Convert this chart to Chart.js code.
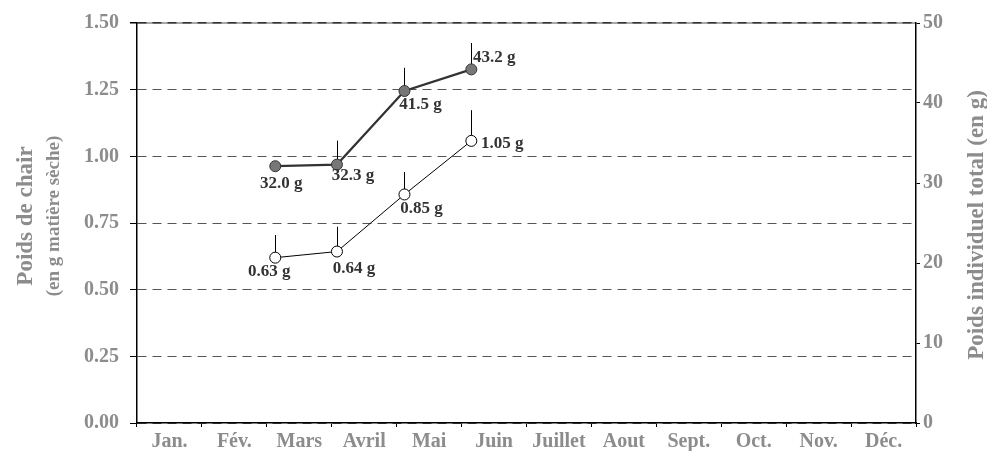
<!DOCTYPE html>
<html>
<head>
<meta charset="utf-8">
<script src="https://cdn.jsdelivr.net/npm/chart.js@4/dist/chart.umd.min.js"></script>
<style>
  html, body { margin: 0; padding: 0; background: #fff; }
  #wrap { width: 987px; height: 451px; position: relative; }
</style>
</head>
<body>
<div id="wrap"><canvas id="chart"></canvas></div>
<script>
// --- DATA ---
const months = ['Jan.', 'Fév.', 'Mars', 'Avril', 'Mai', 'Juin', 'Juillet', 'Aout', 'Sept.', 'Oct.', 'Nov.', 'Déc.'];
const sampleDates = [2.13, 3.08, 4.12, 5.15]; // month units, 0 = start of Jan.

const totalWeight = [32.1, 32.3, 41.5, 44.2];
const totalWeightTop = [null, 35.3, 44.4, 47.5];
const totalLabels = ['32.0 g', '32.3 g', '41.5 g', '43.2 g'];

const fleshWeight = [0.62, 0.643, 0.857, 1.058];
const fleshWeightTop = [0.705, 0.736, 0.941, 1.173];
const fleshLabels = ['0.63 g', '0.64 g', '0.85 g', '1.05 g'];

const leftTicks = [0, 0.25, 0.5, 0.75, 1, 1.25, 1.5];
const rightTicks = [0, 10, 20, 30, 40, 50];

const SERIF = '"Liberation Serif", "Times New Roman", serif';
const GREY_TEXT = '#8c8c8c';

// label offsets from the point, in px
const totalLabelOffsets = [[6, 17], [16, 11], [16, 14], [23, -12]];
const fleshLabelOffsets = [[-6, 14], [17, 17], [17, 14], [31, 3]];

const toPoints = (ys) => sampleDates.map((x, i) => ({ x, y: ys[i] }));

// grey line under the top dashed grid line
const topEdge = {
    id: 'topEdge',
    beforeDraw(chart) {
        const a = chart.chartArea;
        const ctx = chart.ctx;
        ctx.save();
        ctx.strokeStyle = '#8a8a8a';
        ctx.lineWidth = 1.5;
        ctx.beginPath();
        ctx.moveTo(a.left, a.top);
        ctx.lineTo(a.right, a.top);
        ctx.stroke();
        ctx.restore();
    }
};

// error bars (upper side only)
const errorBars = {
    id: 'errorBars',
    beforeDatasetsDraw(chart) {
        const ctx = chart.ctx;
        const xs = chart.scales.x;
        const sets = [[totalWeight, totalWeightTop, chart.scales.y1], [fleshWeight, fleshWeightTop, chart.scales.y]];
        ctx.save();
        ctx.strokeStyle = '#000';
        ctx.lineWidth = 1;
        sets.forEach(([vals, tops, ys]) => {
            vals.forEach((v, i) => {
                if (tops[i] == null) return;
                const px = Math.round(xs.getPixelForValue(sampleDates[i])) + 0.5;
                ctx.beginPath();
                ctx.moveTo(px, ys.getPixelForValue(v));
                ctx.lineTo(px, ys.getPixelForValue(tops[i]));
                ctx.stroke();
            });
        });
        ctx.restore();
    }
};

// value labels + axis titles
const textLayer = {
    id: 'textLayer',
    afterDatasetsDraw(chart) {
        const ctx = chart.ctx;
        const xs = chart.scales.x;
        ctx.save();
        ctx.font = 'bold 17px ' + SERIF;
        ctx.fillStyle = '#333';
        ctx.textAlign = 'center';
        ctx.textBaseline = 'middle';
        totalWeight.forEach((v, i) => {
            const [dx, dy] = totalLabelOffsets[i];
            ctx.fillText(totalLabels[i], xs.getPixelForValue(sampleDates[i]) + dx, chart.scales.y1.getPixelForValue(v) + dy);
        });
        fleshWeight.forEach((v, i) => {
            const [dx, dy] = fleshLabelOffsets[i];
            ctx.fillText(fleshLabels[i], xs.getPixelForValue(sampleDates[i]) + dx, chart.scales.y.getPixelForValue(v) + dy);
        });
        ctx.restore();
    },
    afterDraw(chart) {
        const ctx = chart.ctx;
        const vtext = (txt, x, y, font) => {
            ctx.save();
            ctx.translate(x, y);
            ctx.rotate(-Math.PI / 2);
            ctx.font = font;
            ctx.fillStyle = GREY_TEXT;
            ctx.textAlign = 'center';
            ctx.textBaseline = 'middle';
            ctx.fillText(txt, 0, 0);
            ctx.restore();
        };
        vtext('Poids de chair', 26, 216, 'bold 23px ' + SERIF);
        vtext('(en g matière sèche)', 54, 216, 'bold 19px ' + SERIF);
        vtext('Poids individuel total (en g)', 977, 225, 'bold 23px ' + SERIF);
    }
};

const tickFont = { family: SERIF, size: 20, weight: 'bold' };

new Chart(document.getElementById('chart'), {
    type: 'line',
    data: {
        datasets: [
            {
                label: 'Poids individuel total',
                data: toPoints(totalWeight),
                xAxisID: 'x',
                yAxisID: 'y1',
                borderColor: '#333',
                borderWidth: 2.2,
                pointRadius: 5.5,
                pointBackgroundColor: '#777',
                pointBorderColor: '#333',
                pointBorderWidth: 1,
                tension: 0
            },
            {
                label: 'Poids de chair',
                data: toPoints(fleshWeight),
                xAxisID: 'x',
                yAxisID: 'y',
                borderColor: '#000',
                borderWidth: 1,
                pointRadius: 5.5,
                pointBackgroundColor: '#fff',
                pointBorderColor: '#000',
                pointBorderWidth: 1,
                tension: 0
            }
        ]
    },
    options: {
        responsive: true,
        maintainAspectRatio: false,
        animation: false,
        layout: { padding: { top: 20, left: 0, right: 0, bottom: 0 } },
        plugins: { legend: { display: false }, tooltip: { enabled: false } },
        scales: {
            x: {
                type: 'linear',
                display: false,
                min: 0,
                max: 12
            },
            xm: {
                type: 'category',
                position: 'bottom',
                labels: months,
                offset: true,
                grid: { drawOnChartArea: false, offset: true, tickLength: 4, tickColor: '#000', color: '#000' },
                border: { color: '#000', width: 1.5 },
                ticks: { font: tickFont, color: GREY_TEXT, padding: 3, maxRotation: 0, autoSkip: false },
                afterFit(s) { s.height = 28; }
            },
            y: {
                type: 'linear',
                position: 'left',
                min: 0,
                max: 1.5,
                afterBuildTicks(s) { s.ticks = leftTicks.map(v => ({ value: v })); },
                ticks: { font: tickFont, color: GREY_TEXT, padding: 11, callback: v => v.toFixed(2) },
                grid: {
                    color: (c) => (c.tick && c.tick.value === 1.5 ? '#333' : '#555'),
                    lineWidth: (c) => (c.tick && c.tick.value === 1.5 ? 1.5 : 1),
                    tickLength: 7,
                    tickColor: '#000',
                    tickBorderDash: []
                },
                border: { color: '#000', width: 1.5, dash: [9, 6] },
                afterFit(s) { s.width = 137; }
            },
            y1: {
                type: 'linear',
                position: 'right',
                min: 0,
                max: 50,
                afterBuildTicks(s) { s.ticks = rightTicks.map(v => ({ value: v })); },
                ticks: { font: tickFont, color: GREY_TEXT, padding: 3 },
                grid: { drawOnChartArea: false, tickLength: 4, tickColor: '#000', color: '#000' },
                border: { color: '#000', width: 1.5 },
                afterFit(s) { s.width = 71; }
            }
        }
    },
    plugins: [topEdge, errorBars, textLayer]
});
</script>
</body>
</html>
